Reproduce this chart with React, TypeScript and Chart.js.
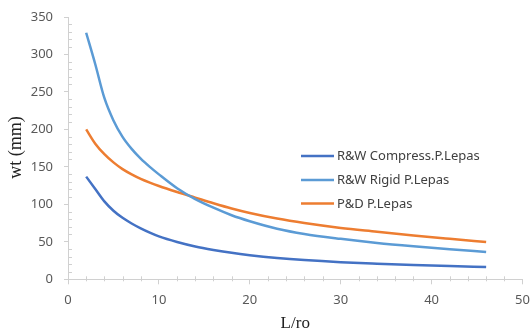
import React, { useEffect, useRef } from "react";
import { Chart, registerables } from "chart.js";

Chart.register(...registerables);

const xCompress = [2, 3, 4, 5, 6, 7, 8, 9, 10, 12, 14, 16, 18, 20, 23, 26, 30, 34, 38, 42, 46];
const yCompress = [137, 120.5, 104, 91.5, 82, 74.5, 68, 62.3, 57.3, 49.8, 43.8, 39.2, 35.3, 32.2, 28.5, 25.7, 22.9, 20.9, 19.2, 17.7, 16.3];

const xRigid = [2, 3, 4, 5, 6, 7, 8, 9, 10, 12, 14, 16, 18, 20, 23, 26, 30, 34, 38, 42, 46];
const yRigid = [329, 287, 242, 212, 190, 174, 161, 150, 140, 121.5, 107, 95.5, 85.5, 77.5, 67.5, 60.5, 54, 48.5, 44, 40, 36.5];

const xPD = [2, 3, 4, 5, 6, 7, 8, 9, 10, 12, 14, 16, 18, 20, 23, 26, 30, 34, 38, 42, 46];
const yPD = [200, 181, 167, 156, 147, 140, 134, 129, 124.5, 116.5, 109, 101.5, 94.5, 88.5, 81, 75, 68.5, 63.5, 58.5, 54, 49.7];

const seriesNames = ["R&W Compress.P.Lepas", "R&W Rigid P.Lepas", "P&D P.Lepas"];
const seriesColors = ["#4472C4", "#5B9BD5", "#ED7D31"];

const xTitle = "L/ro";
const yTitle = "wt (mm)";

const AXIS_COLOR = "#d0d0d0";
const TEXT_COLOR = "#595959";

function pts(xs: number[], ys: number[]) {
  return xs.map((x, i) => ({ x, y: ys[i] }));
}

const extrasPlugin = {
  id: "extras",
  afterDraw(chart: any) {
    const ctx = chart.ctx;
    const xs = chart.scales.x;
    const ys = chart.scales.y;
    const area = chart.chartArea;
    ctx.save();
    ctx.strokeStyle = AXIS_COLOR;
    ctx.lineWidth = 1;
    for (let v = 0; v <= 350; v += 10) {
      if (v % 50 === 0) continue;
      const py = Math.round(ys.getPixelForValue(v)) + 0.5;
      ctx.beginPath();
      ctx.moveTo(area.left, py);
      ctx.lineTo(area.left + 4, py);
      ctx.stroke();
    }
    for (let v = 0; v <= 50; v += 2) {
      if (v % 10 === 0) continue;
      const px = Math.round(xs.getPixelForValue(v)) + 0.5;
      ctx.beginPath();
      ctx.moveTo(px, area.bottom - 3);
      ctx.lineTo(px, area.bottom + 2);
      ctx.stroke();
    }
    const lx = 301;
    const rows = [156, 180, 203.5];
    ctx.font = "13px 'Noto Sans'";
    ctx.textBaseline = "middle";
    ctx.textAlign = "left";
    for (let i = 0; i < seriesNames.length; i++) {
      ctx.strokeStyle = seriesColors[i];
      ctx.lineWidth = 2.5;
      ctx.beginPath();
      ctx.moveTo(lx, rows[i]);
      ctx.lineTo(lx + 33, rows[i]);
      ctx.stroke();
      ctx.fillStyle = "#404040";
      ctx.fillText(seriesNames[i], lx + 36, rows[i] + 0.5);
    }
    ctx.fillStyle = "#222";
    ctx.font = "17px 'Liberation Serif'";
    ctx.textAlign = "center";
    ctx.fillText(xTitle, (area.left + area.right) / 2, 324);
    ctx.font = "18px 'Liberation Serif'";
    ctx.translate(16, 147.5);
    ctx.rotate(-Math.PI / 2);
    ctx.fillText(yTitle, 0, 0);
    ctx.restore();
  },
};

export default function App() {
  const ref = useRef<HTMLCanvasElement | null>(null);
  useEffect(() => {
    if (!ref.current) return;
    const chart = new Chart(ref.current, {
      type: "line",
      data: {
        datasets: [
          { label: seriesNames[0], data: pts(xCompress, yCompress), borderColor: seriesColors[0] },
          { label: seriesNames[1], data: pts(xRigid, yRigid), borderColor: seriesColors[1] },
          { label: seriesNames[2], data: pts(xPD, yPD), borderColor: seriesColors[2] },
        ].map((d) => ({
          ...d,
          borderWidth: 2.5,
          pointRadius: 0,
          fill: false,
          cubicInterpolationMode: "monotone" as const,
        })),
      },
      options: {
        animation: false,
        responsive: false,
        layout: { padding: { left: 0, right: 9.5, top: 17, bottom: 0 } },
        plugins: { legend: { display: false }, tooltip: { enabled: false } },
        scales: {
          x: {
            type: "linear",
            min: 0,
            max: 50,
            ticks: { stepSize: 10, color: TEXT_COLOR, font: { family: "'Noto Sans'", size: 13 }, padding: 8 },
            grid: { drawOnChartArea: false, tickLength: 5, color: AXIS_COLOR },
            border: { color: AXIS_COLOR },
            afterFit: (s: any) => {
              s.height = 333 - 279.3;
              s.paddingRight = 0;
              s.paddingLeft = 0;
            },
          },
          y: {
            type: "linear",
            min: 0,
            max: 350,
            ticks: { stepSize: 50, color: TEXT_COLOR, font: { family: "'Noto Sans'", size: 13 }, padding: 11 },
            grid: { drawOnChartArea: false, tickLength: 4, color: AXIS_COLOR },
            border: { color: AXIS_COLOR },
            afterFit: (s: any) => {
              s.width = 68;
              s.paddingTop = 0;
              s.paddingBottom = 0;
            },
          },
        },
      },
      plugins: [extrasPlugin],
    });
    return () => chart.destroy();
  }, []);
  return (
    <div style={{ position: "absolute", left: 0, top: 0, width: 532, height: 333, background: "#fff" }}>
      <canvas ref={ref} width={532} height={333} />
    </div>
  );
}
